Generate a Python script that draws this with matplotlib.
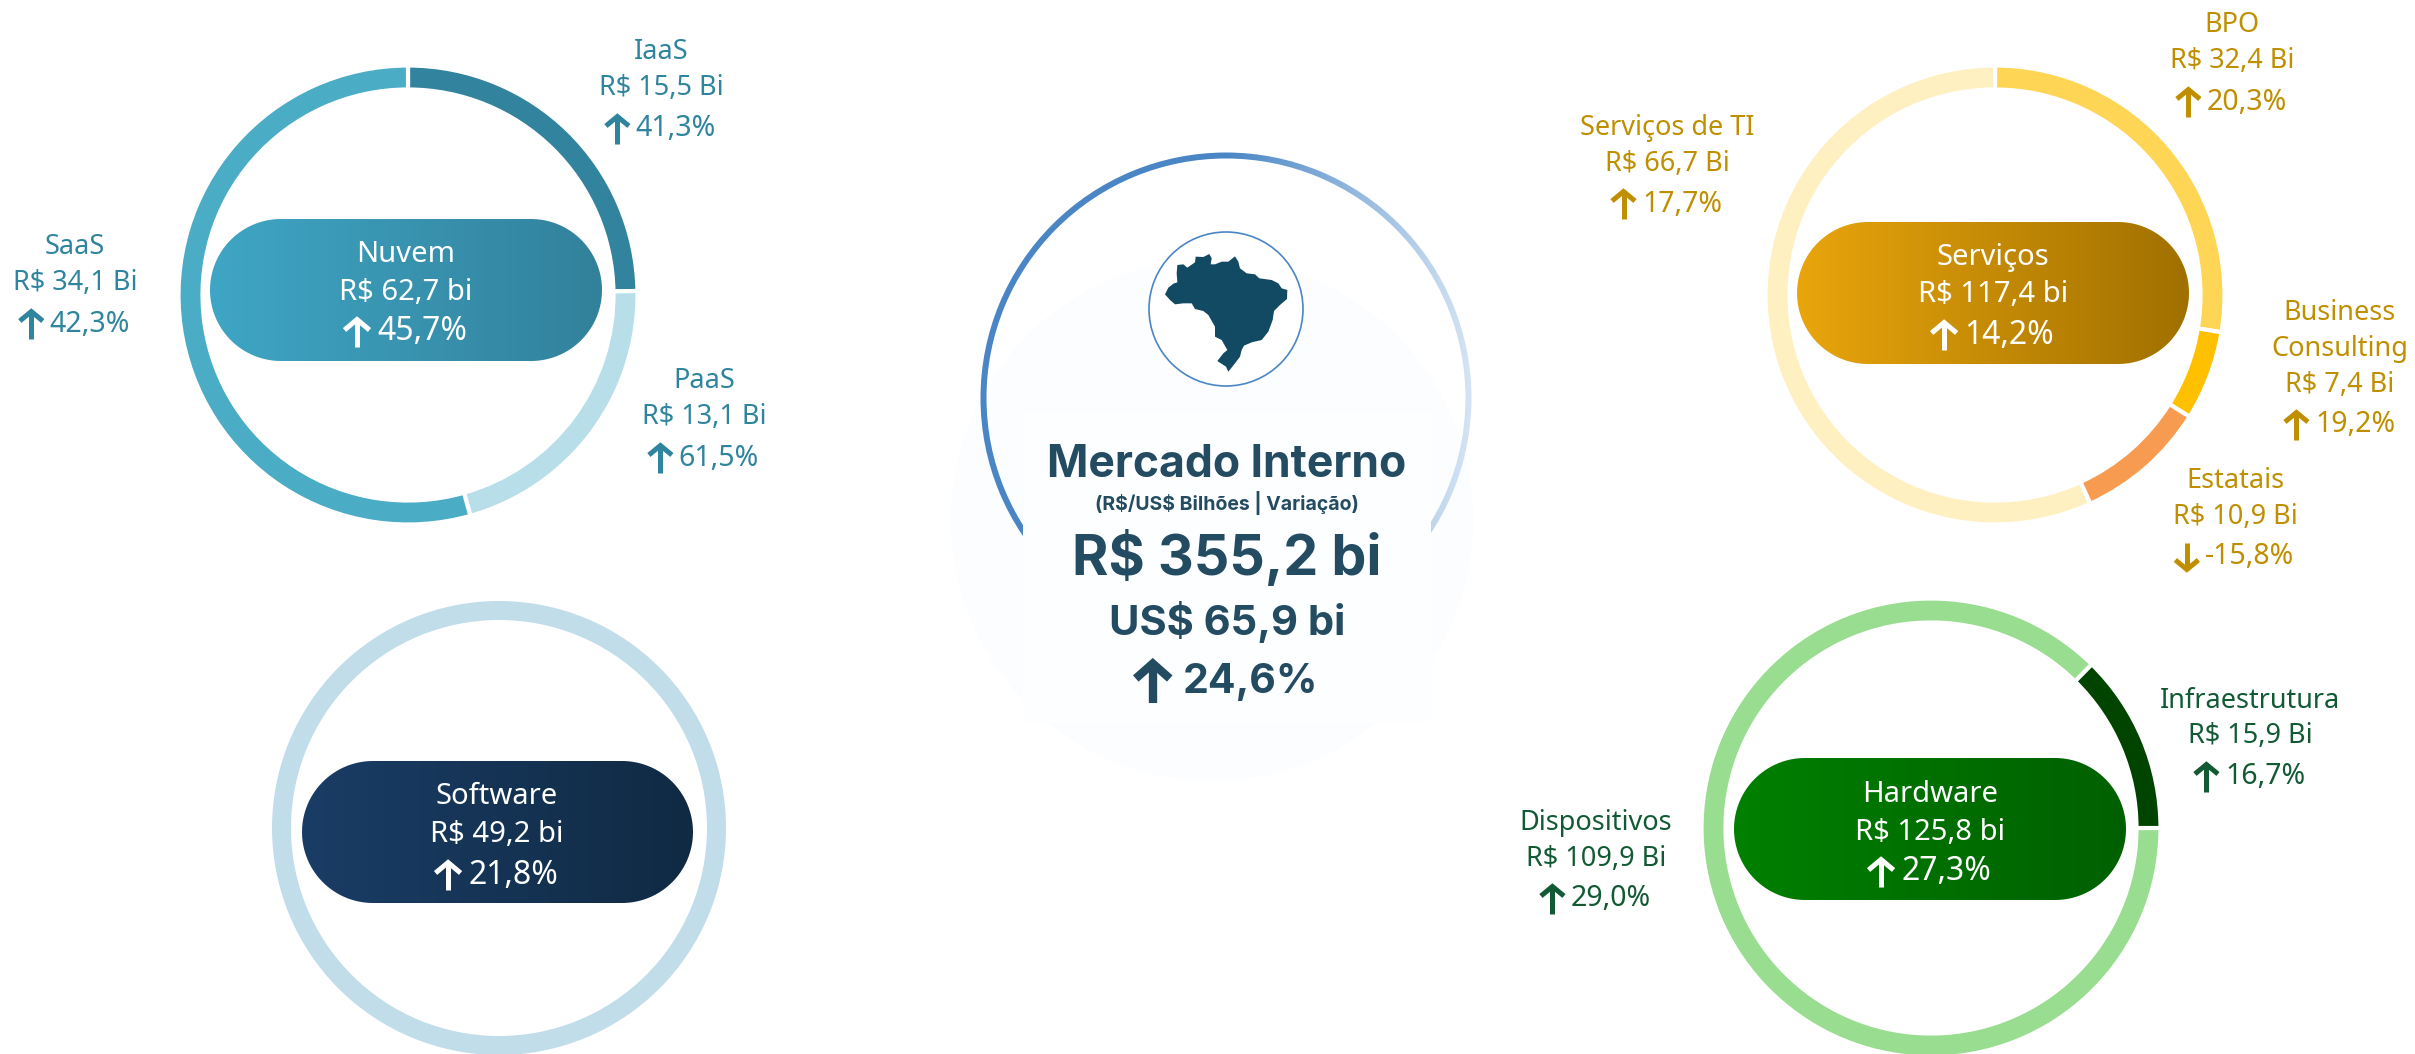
import numpy as np
import matplotlib
matplotlib.use("Agg")
import matplotlib.pyplot as plt
from matplotlib.patches import Wedge, Circle, Rectangle, Polygon

# valores em R$ bilhoes e variacao em %
nuvem_nomes = ["IaaS", "PaaS", "SaaS"]
nuvem_valores = [15.5, 13.1, 34.1]
nuvem_var = [41.3, 61.5, 42.3]
nuvem_total, nuvem_total_var = 62.7, 45.7

software_valores = [49.2]
software_total, software_total_var = 49.2, 21.8

servicos_nomes = ["BPO", "Business\nConsulting", "Estatais", "Serviços de TI"]
servicos_valores = [32.4, 7.4, 10.9, 66.7]
servicos_var = [20.3, 19.2, -15.8, 17.7]
servicos_total, servicos_total_var = 117.4, 14.2

hardware_nomes = ["Dispositivos", "Infraestrutura"]
hardware_valores = [109.9, 15.9]
hardware_var = [29.0, 16.7]
hardware_total, hardware_total_var = 125.8, 27.3

mercado_brl, mercado_usd, mercado_var = 355.2, 65.9, 24.6

W, H = 2415, 1054
plt.rcParams["font.family"] = "Noto Sans"
plt.rcParams["text.parse_math"] = False
fonte_bold = "Inter"

fig = plt.figure(figsize=(W / 100, H / 100), dpi=100)
# eixo em pixels, y para baixo: por isso o pie usa counterclock=True (fica horario na tela)
ax = fig.add_axes([0, 0, 1, 1])


def br(v):
    return f"{v:.1f}".replace(".", ",")


def texto(x, y, s, cor, size=19.5, **kw):
    return ax.text(x, y + 3, s, color=cor, fontsize=size, ha=kw.pop("ha", "center"), va="center", zorder=6, **kw)


def seta(x, y, cor, sobe, larg, alt, lw):
    # haste e ponta em chevron
    s = -1 if sobe else 1
    ponta = y + s * alt / 2
    ax.plot([x, x], [y - s * alt / 2, ponta - s * 2], color=cor, lw=lw, solid_capstyle="butt", zorder=6)
    ax.plot([x - larg / 2, x, x + larg / 2], [ponta - s * larg * 0.5, ponta - s * 2, ponta - s * larg * 0.5],
            color=cor, lw=lw, solid_capstyle="butt", solid_joinstyle="miter", zorder=6)


def linha_var(x, y, v, cor, size=20.5, larg=23, alt=29, lw=3.6, gap=7, **kw):
    t = texto(x, y, br(v) + "%", cor, size, ha="left", **kw)
    w = t.get_window_extent(fig.canvas.get_renderer()).width
    ini = x - (larg + gap + w) / 2
    t.set_x(ini + larg + gap)
    seta(ini + larg / 2, y + 3, cor, v >= 0, larg, alt, lw)


def rotulo(x, ys, nome, valor, var, cor):
    texto(x, ys[0], nome, cor, linespacing=1.35)
    texto(x, ys[1], f"R$ {br(valor)} Bi", cor)
    linha_var(x, ys[2], var, cor)


def rosca(cx, cy, valores, cores, lw=3, inicio=-90):
    ax.pie(valores, colors=cores, center=(cx, cy), radius=229.5, startangle=inicio, counterclock=True,
           frame=True, wedgeprops=dict(width=24, edgecolor="white", linewidth=lw))


def pilula(x0, x1, y0, y1, c0, c1, nome, total, var, xt, ys):
    grad = np.linspace(0, 1, 256)
    c0, c1 = matplotlib.colors.to_rgb(c0), matplotlib.colors.to_rgb(c1)
    img = np.array([[[a + (b - a) * g for a, b in zip(c0, c1)] for g in grad]])
    im = ax.imshow(img, extent=(x0, x1, y1, y0), aspect="auto", zorder=4)
    r = (y1 - y0) / 2
    ang = np.linspace(-np.pi / 2, np.pi / 2, 60)
    dir_ = np.c_[x1 - r + r * np.cos(ang), (y0 + y1) / 2 + r * np.sin(ang)]
    esq = np.c_[x0 + r - r * np.cos(ang[::-1]), (y0 + y1) / 2 + r * np.sin(ang[::-1])]
    forma = Polygon(np.vstack([dir_, esq]), closed=True, fc="none", ec="none", transform=ax.transData)
    ax.add_patch(forma)
    im.set_clip_path(forma)
    texto(xt, ys[0], nome, "white", 21)
    texto(xt, ys[1], f"R$ {br(total)} bi", "white", 21)
    linha_var(xt, ys[2], var, "white", 23, larg=25, gap=8)


# Nuvem
cor = "#2F849E"
rosca(408, 295, nuvem_valores, ["#32839E", "#B7DEE9", "#4BACC6"])
pilula(210, 602, 219, 361, "#3FA6C5", "#32819B", "Nuvem", nuvem_total, nuvem_total_var, 406, (252, 290, 329))
rotulo(661, (49, 85, 126), nuvem_nomes[0], nuvem_valores[0], nuvem_var[0], cor)
rotulo(704, (378, 414, 455), nuvem_nomes[1], nuvem_valores[1], nuvem_var[1], cor)
rotulo(75, (244, 280, 321), nuvem_nomes[2], nuvem_valores[2], nuvem_var[2], cor)

# Software
rosca(499, 828, software_valores, ["#C1DDEA"], lw=3.6)
pilula(302, 693, 761, 903, "#1A3D66", "#102A43", "Software", software_total, software_total_var, 497, (793, 832, 872))

# Servicos
cor = "#BF8F00"
rosca(1995, 295, servicos_valores, ["#FFD555", "#FFC000", "#F79B50", "#FFF0C2"])
pilula(1797, 2189, 222, 364, "#E9A50C", "#A07000", "Serviços", servicos_total, servicos_total_var, 1993, (255, 292, 332))
rotulo(2232, (22, 58, 99), servicos_nomes[0], servicos_valores[0], servicos_var[0], cor)
rotulo(2340, (328, 382, 422), servicos_nomes[1], servicos_valores[1], servicos_var[1], cor)
rotulo(2235, (478, 514, 554), servicos_nomes[2], servicos_valores[2], servicos_var[2], cor)
rotulo(1667, (125, 161, 201), servicos_nomes[3], servicos_valores[3], servicos_var[3], cor)

# Hardware: comeca em 3 horas
cor = "#125A34"
rosca(1931, 828, hardware_valores, ["#99DD90", "#004400"], inicio=0)
pilula(1734, 2126, 758, 900, "#008000", "#006000", "Hardware", hardware_total, hardware_total_var, 1930, (792, 830, 869))
rotulo(1596, (820, 856, 896), hardware_nomes[0], hardware_valores[0], hardware_var[0], cor)
rotulo(2250, (698, 733, 774), hardware_nomes[1], hardware_valores[1], hardware_var[1], cor)

# Mercado interno, centro
ax.add_patch(Circle((1212, 520), 261, fc="#FBFDFF", ec="none", zorder=1))
grad = np.linspace(0, 1, 256)
c0, c1 = np.array(matplotlib.colors.to_rgb("#4A86C5")), np.array(matplotlib.colors.to_rgb("#D5E4F4"))
img = np.array([[c0 + (c1 - c0) * max(0, g - 0.5) / 0.5 for g in grad]])
anel = ax.imshow(img, extent=(980, 1472, 645, 150), aspect="auto", zorder=2)
arco = Wedge((1226, 398), 245.5, 0, 360, width=6, transform=ax.transData, fc="none", ec="none")
ax.add_patch(arco)
anel.set_clip_path(arco)
ax.add_patch(Rectangle((1023, 412), 408, 310, fc="#FDFEFF", ec="none", zorder=3))
ax.add_patch(Circle((1226, 309), 77, fc="white", ec="#4A86C5", lw=1.2, zorder=4))

mapa = np.array([(75, 208), (85, 188), (100, 176), (112, 172), (110, 145), (112, 120), (130, 118), (142, 128),
                 (165, 112), (167, 95), (190, 96), (208, 87), (215, 100), (212, 118), (225, 118), (245, 110),
                 (265, 110), (285, 94), (295, 110), (300, 130), (320, 145), (345, 148), (358, 160), (395, 165),
                 (415, 175), (425, 190), (442, 195), (441, 222), (420, 240), (402, 258), (398, 285), (385, 320),
                 (365, 345), (335, 352), (312, 362), (305, 375), (300, 395), (285, 415), (265, 440), (258, 425),
                 (232, 408), (250, 385), (262, 375), (245, 345), (225, 335), (225, 305), (205, 270), (190, 258),
                 (165, 252), (155, 235), (130, 235), (105, 238), (90, 225)], dtype=float)
ax.add_patch(Polygon(mapa / 3 + (1140, 225), closed=True, fc="#134A63", ec="none", zorder=5))

azul = "#234B61"
bold = dict(fontweight="bold", family=fonte_bold)
texto(1227, 462, "Mercado Interno", azul, 32, **bold)
texto(1227, 500, "(R$/US$ Bilhões | Variação)", azul, 14, **bold)
texto(1227, 554, f"R$ {br(mercado_brl)} bi", azul, 40, **bold)
texto(1227, 619, f"US$ {br(mercado_usd)} bi", azul, 30, **bold)
linha_var(1227, 679, mercado_var, azul, 29.5, larg=34, alt=41, lw=6, gap=13, **bold)

ax.set_xlim(0, W)
ax.set_ylim(H, 0)
ax.set_aspect("auto")
ax.axis("off")

plt.savefig("out.png", dpi=100)
